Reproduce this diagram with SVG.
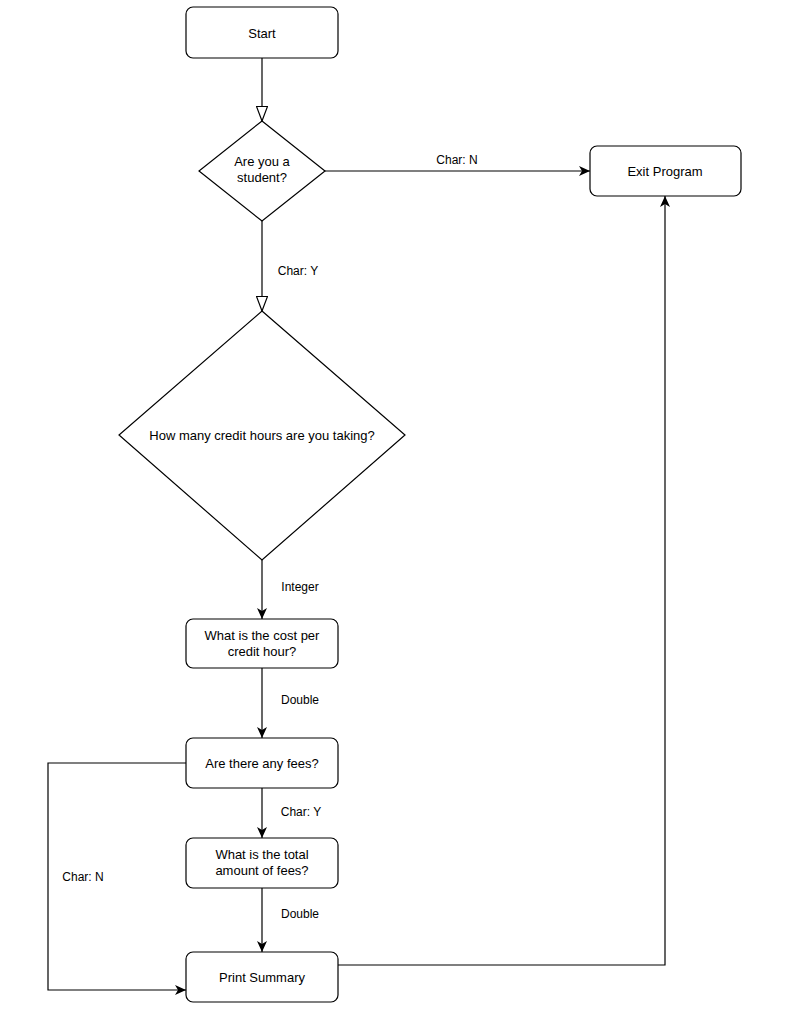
<svg xmlns="http://www.w3.org/2000/svg" width="791" height="1024" viewBox="0 0 791 1024">
<style>
.n{fill:#fff;stroke:#000;stroke-width:1.2}
.t{font-family:"Liberation Sans",Arial,sans-serif;font-size:13px;fill:#000;text-anchor:middle}
.l{font-family:"Liberation Sans",Arial,sans-serif;font-size:12px;fill:#000;text-anchor:middle}
.c{fill:none;stroke:#000;stroke-width:1.2}
</style>
<defs>
<marker id="f" markerWidth="12" markerHeight="10" refX="11" refY="5" orient="auto" markerUnits="userSpaceOnUse"><path d="M0,0 L11,5 L0,10 L3,5 Z" fill="#000"/></marker>
<marker id="h" markerWidth="16" markerHeight="12" refX="15" refY="6" orient="auto" markerUnits="userSpaceOnUse"><path d="M0.5,0.5 L15,6 L0.5,11.5 Z" fill="#fff" stroke="#000" stroke-width="1.2"/></marker>
</defs>
<rect width="791" height="1024" fill="#fff"/>
<g id="connectors">
<path class="c" d="M262,58 V121" marker-end="url(#h)"/>
<path class="c" d="M325,171 H590" marker-end="url(#f)"/>
<text class="l" x="457" y="164">Char: N</text>
<path class="c" d="M262,221 V311" marker-end="url(#h)"/>
<text class="l" x="298" y="275">Char: Y</text>
<path class="c" d="M262,560 V619" marker-end="url(#f)"/>
<text class="l" x="300" y="591">Integer</text>
<path class="c" d="M262,668 V738" marker-end="url(#f)"/>
<text class="l" x="300" y="704">Double</text>
<path class="c" d="M262,788 V838" marker-end="url(#f)"/>
<text class="l" x="301" y="816">Char: Y</text>
<path class="c" d="M262,888 V952" marker-end="url(#f)"/>
<text class="l" x="300" y="918">Double</text>
<path class="c" d="M186,763 H48 V990 H186" marker-end="url(#f)"/>
<text class="l" x="83" y="881">Char: N</text>
<path class="c" d="M338,965 H665 V196" marker-end="url(#f)"/>
</g>
<g id="start"><rect class="n" x="186" y="7" width="152" height="51" rx="7"/><text class="t" x="262" y="38">Start</text></g>
<g id="student"><path class="n" d="M262,121 L325,171 L262,221 L199,171 Z"/><text class="t" x="262" y="166">Are you a</text><text class="t" x="262" y="182">student?</text></g>
<g id="exit"><rect class="n" x="590" y="146" width="151" height="50" rx="7"/><text class="t" x="665" y="176">Exit Program</text></g>
<g id="hours"><path class="n" d="M262,311 L405,435 L262,560 L119,435 Z"/><text class="t" x="262" y="440">How many credit hours are you taking?</text></g>
<g id="cost"><rect class="n" x="186" y="619" width="152" height="49" rx="7"/><text class="t" x="262" y="640">What is the cost per</text><text class="t" x="262" y="656">credit hour?</text></g>
<g id="fees"><rect class="n" x="186" y="738" width="152" height="50" rx="7"/><text class="t" x="262" y="768">Are there any fees?</text></g>
<g id="total"><rect class="n" x="186" y="838" width="152" height="50" rx="7"/><text class="t" x="262" y="859">What is the total</text><text class="t" x="262" y="875">amount of fees?</text></g>
<g id="summary"><rect class="n" x="186" y="952" width="152" height="50" rx="7"/><text class="t" x="262" y="982">Print Summary</text></g>
</svg>
